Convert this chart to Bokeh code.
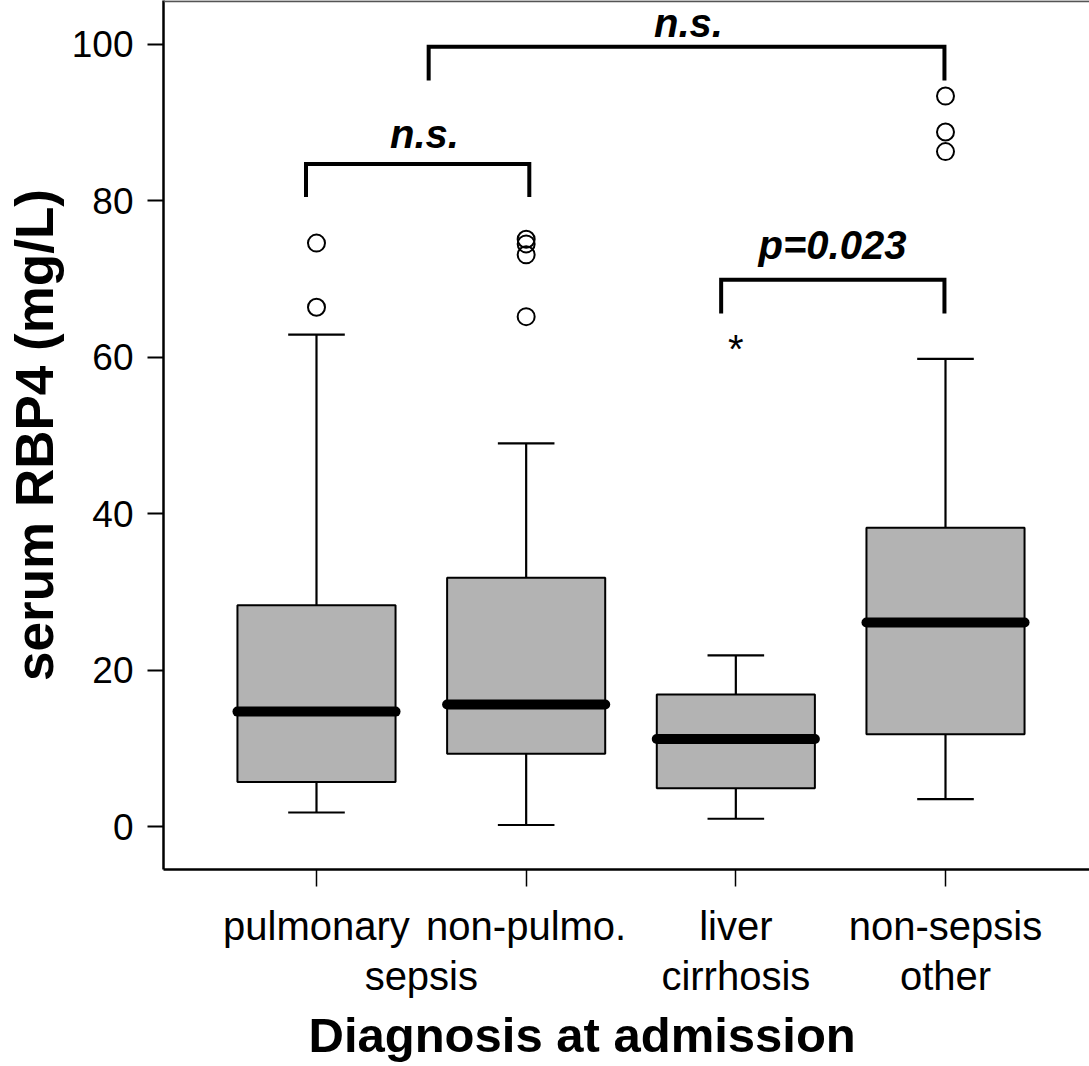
from bokeh.plotting import figure
from bokeh.models import FixedTicker, LinearAxis, Title, Span
from bokeh.core.properties import value
from bokeh.embed import file_html
from bokeh.resources import INLINE

# ---- data ----
categories_line1 = ["pulmonary", "non-pulmo.", "liver", "non-sepsis"]
categories_line2 = ["sepsis", "cirrhosis", "other"]     # "sepsis" is shared by groups 1 and 2
line2_pos = [1.5, 3, 4]
x_pos = [1, 2, 3, 4]
q1 = [5.7, 9.3, 4.9, 11.8]
median = [14.7, 15.6, 11.2, 26.1]
q3 = [28.3, 31.8, 16.9, 38.2]
whisker_low = [1.8, 0.2, 1.0, 3.5]
whisker_high = [62.9, 49.0, 21.9, 59.8]

outlier_x = [1, 1, 2, 2, 2, 2, 4, 4, 4]
outlier_y = [74.6, 66.4, 75.1, 74.5, 73.1, 65.2, 93.4, 88.8, 86.3]
extreme_x = [3]
extreme_y = [61.8]

bracket_x0 = [0.95, 1.535, 2.93]
bracket_x1 = [2.015, 3.995, 3.995]
bracket_top = [84.7, 99.7, 69.9]
bracket_leg = [80.5, 95.4, 65.6]
bracket_text = ["n.s.", "n.s.", "p=0.023"]
bracket_text_x = [1.515, 2.774, 3.461]
bracket_text_y = [86.85, 101.1, 72.67]

y_ticks = [0, 20, 40, 60, 80, 100]
y_title = "serum RBP4 (mg/L)"
x_title = "Diagnosis at admission"

FONT = "Liberation Sans"
box_w = 0.754
cap_w = 0.27
Y0, Y1 = -5.49, 105.62

p = figure(width=1089, height=1066, x_range=(0.2703, 4.6868), y_range=(Y0, Y1),
           output_backend="svg", toolbar_location=None,
           min_border_left=163, min_border_right=0, min_border_top=0, min_border_bottom=196)
p.xgrid.visible = False
p.ygrid.visible = False
p.outline_line_color = None
p.background_fill_color = "white"
p.border_fill_color = "white"
p.add_layout(Span(location=Y1 - 0.1, dimension="width", line_color="#555555", line_width=2))

# whiskers
xl = [x - cap_w / 2 for x in x_pos]
xr = [x + cap_w / 2 for x in x_pos]
p.segment(x0=x_pos, x1=x_pos, y0=q3, y1=whisker_high, line_color="black", line_width=2.2)
p.segment(x0=x_pos, x1=x_pos, y0=q1, y1=whisker_low, line_color="black", line_width=2.2)
p.segment(x0=xl, x1=xr, y0=whisker_high, y1=whisker_high, line_color="black", line_width=2.2)
p.segment(x0=xl, x1=xr, y0=whisker_low, y1=whisker_low, line_color="black", line_width=2.2)

# boxes
p.vbar(x=x_pos, width=box_w, bottom=q1, top=q3, fill_color="#b3b3b3",
       line_color="black", line_width=2)
# medians
bl = [x - box_w / 2 for x in x_pos]
br = [x + box_w / 2 for x in x_pos]
p.segment(x0=bl, x1=br, y0=median, y1=median, line_color="black", line_width=10,
          line_cap="round")

# outliers
p.scatter(x=outlier_x, y=outlier_y, marker="circle", size=17, fill_color=None,
          line_color="black", line_width=2)
p.text(x=extreme_x, y=extreme_y, text=["*"] * len(extreme_x), text_align="center",
       text_baseline="middle", text_font=value(FONT), text_font_size="40px",
       text_color="black", y_offset=6)

# significance brackets
xs = [[a, a, b, b] for a, b in zip(bracket_x0, bracket_x1)]
ys = [[l, t, t, l] for t, l in zip(bracket_top, bracket_leg)]
p.multi_line(xs=xs, ys=ys, line_color="black", line_width=4, line_join="miter")
p.text(x=bracket_text_x, y=bracket_text_y, text=bracket_text, text_align="center",
       text_baseline="alphabetic", text_font=value(FONT), text_font_size="40px",
       text_font_style="bold italic", text_color="black", y_offset=-13)

# x axis (first line of category labels, with ticks)
ax = p.xaxis[0]
ax.ticker = FixedTicker(ticks=x_pos)
ax.major_label_overrides = {x: c for x, c in zip(x_pos, categories_line1)}
ax.minor_tick_line_color = None
ax.major_tick_in = 0
ax.major_tick_out = 17
ax.major_tick_line_width = 1.5
ax.major_tick_line_color = "black"
ax.axis_line_width = 2.5
ax.axis_line_color = "black"
ax.major_label_text_font = FONT
ax.major_label_text_font_size = "40px"
ax.major_label_text_color = "black"
ax.major_label_standoff = 17

# second line of category labels
ax2 = LinearAxis(ticker=FixedTicker(ticks=line2_pos))
ax2.major_label_overrides = {x: c for x, c in zip(line2_pos, categories_line2)}
ax2.axis_line_color = None
ax2.major_tick_line_color = None
ax2.minor_tick_line_color = None
ax2.major_tick_in = 0
ax2.major_tick_out = 0
ax2.major_label_standoff = 3
ax2.major_label_text_font = FONT
ax2.major_label_text_font_size = "40px"
ax2.major_label_text_color = "black"
p.add_layout(ax2, "below")

p.add_layout(Title(text=x_title, align="left", offset=145, text_font=FONT,
                   text_font_size="49px", text_font_style="bold", text_color="black",
                   standoff=10), "below")

ay = p.yaxis[0]
ay.ticker = FixedTicker(ticks=y_ticks)
ay.minor_tick_line_color = None
ay.major_tick_in = 0
ay.major_tick_out = 16
ay.major_tick_line_width = 2
ay.major_tick_line_color = "black"
ay.axis_line_width = 2.5
ay.axis_line_color = "black"
ay.major_label_text_font = FONT
ay.major_label_text_font_size = "37px"
ay.major_label_text_color = "black"
ay.major_label_standoff = 14
ay.axis_label = y_title
ay.axis_label_text_font = FONT
ay.axis_label_text_font_size = "53px"
ay.axis_label_text_font_style = "bold"
ay.axis_label_text_color = "black"
ay.axis_label_standoff = 5

open("out.html", "w").write(file_html(p, INLINE))
